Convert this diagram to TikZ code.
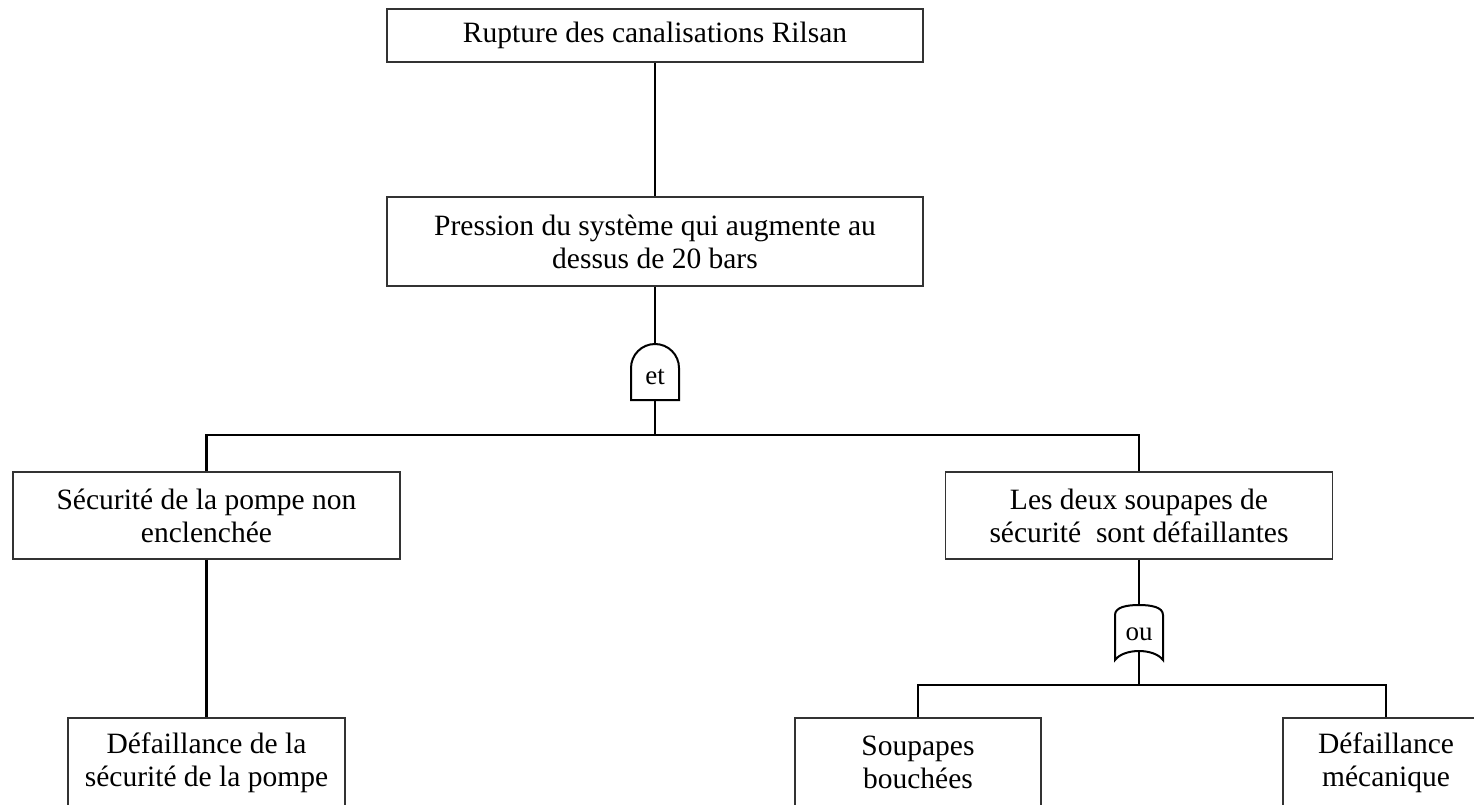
\documentclass[tikz,border=0pt]{standalone}
\usepackage{fontspec}
\setmainfont{Liberation Serif}
\usetikzlibrary{positioning,calc}

\begin{document}
\begin{tikzpicture}[x=1pt,y=-1pt,
  box/.style={draw=black!80, line width=1.4pt, rectangle, inner sep=0pt, align=center,
    font=\fontsize{29.5}{33}\selectfont},
  link/.style={line width=2.4pt},
  gate/.style={line width=2pt, fill=white},
  gatetext/.style={inner sep=0pt, font=\fontsize{27}{27}\selectfont}]
  %
  \clip (0,0) rectangle (1474,805);
  %
  \coordinate (et-top) at (655,344);
  \coordinate (et-bot) at (655,400);
  \coordinate (et-join) at (655,435);
  \coordinate (ou-top) at (1139,605);
  \coordinate (ou-bot) at (1139,652);
  \coordinate (ou-join) at (1139,685);
  %
  \node[box, minimum width=536, minimum height=53] (rupture) at (655,35.5) {Rupture des canalisations Rilsan};
  \node[box, minimum width=536, minimum height=89] (pression) at (655,241.5) {Pression du système qui augmente au\\dessus de 20 bars};
  \node[box, minimum width=387, minimum height=87] (pompe) at (206.5,515.5) {Sécurité de la pompe non\\enclenchée};
  \node[box, minimum width=387, minimum height=87] (deux) at (1139,515.5) {Les deux soupapes de\\sécurité\ \ sont défaillantes};
  \node[box, minimum width=277, minimum height=89] (defpompe) at (206.5,762.5) {Défaillance de la\\sécurité de la pompe};
  \node[box, minimum width=246, minimum height=89] (bouchees) at (918,762.5) {Soupapes\\bouchées};
  \node[box, minimum width=206, minimum height=89] (meca) at (1386,762.5) {Défaillance\\mécanique};
  %
  \draw[link] (rupture.south) -- (pression.north);
  \draw[link] (pression.south) -- (et-top);
  \draw[link] (et-bot) -- (et-join);
  \draw[link] (pompe.north) |- (et-join) -| (deux.north);
  \draw[link] (pompe.south) -- (defpompe.north);
  \draw[link] (deux.south) -- (ou-top);
  \draw[link] (ou-bot) -- (ou-join);
  \draw[link] (bouchees.north) |- (ou-join) -| (meca.north);
  %
  \draw[gate] (631,400) -- (631,368) arc[start angle=180, end angle=360, radius=24] -- (679,400) -- cycle;
  \node[gatetext] (et) at (655,377) {et};
  %
  \draw[gate] (1115,660) -- (1115,615) .. controls (1115,607) and (1127,605) .. (ou-top)
    .. controls (1151,605) and (1163,607) .. (1163,615) -- (1163,660)
    .. controls (1154,648) and (1124,648) .. (1115,660) -- cycle;
  \node[gatetext] (ou) at (1139,634) {ou};
  %
\end{tikzpicture}
\end{document}
